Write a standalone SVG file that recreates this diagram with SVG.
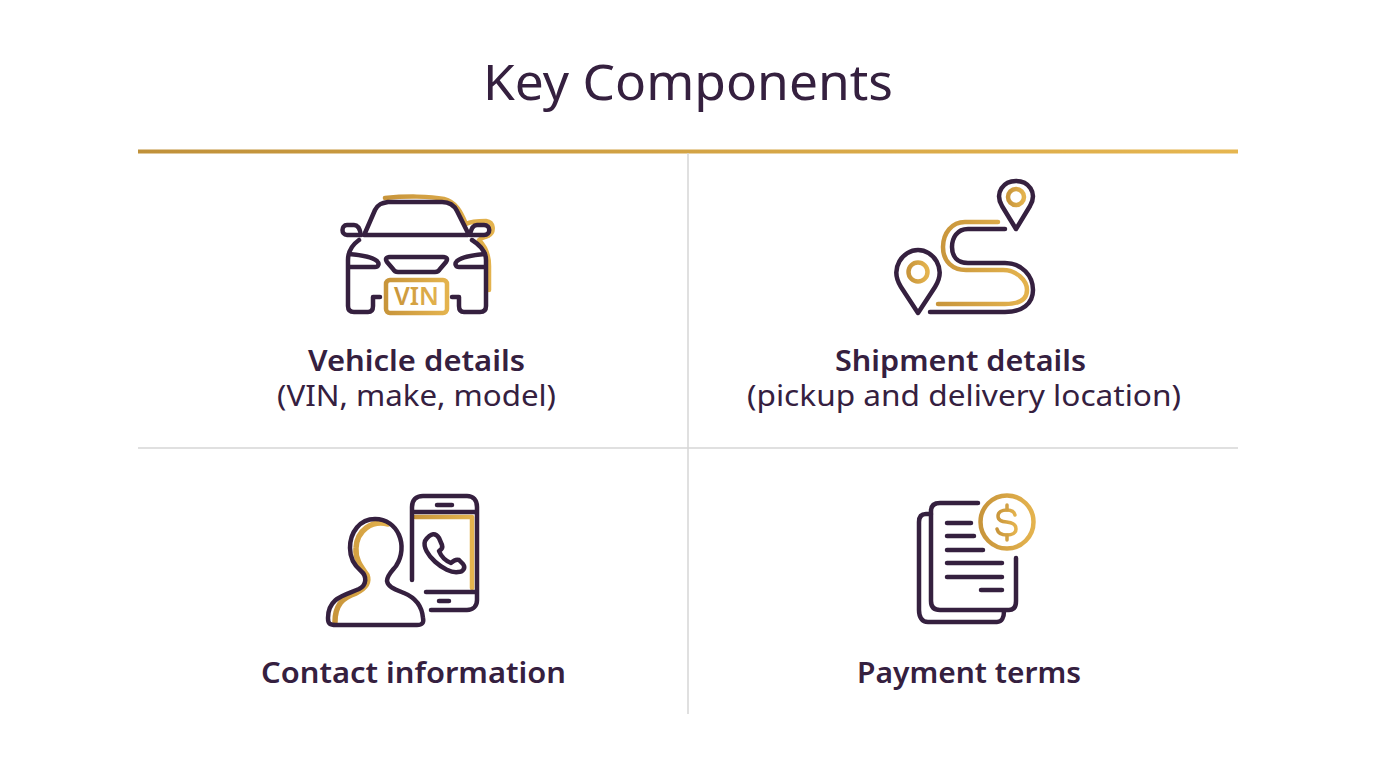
<svg xmlns="http://www.w3.org/2000/svg" width="1376" height="768" viewBox="0 0 1376 768">
<style>
text{font-family:"Noto Sans","Open Sans",sans-serif;fill:#35203f;text-anchor:middle}
.t{font-size:50px;font-weight:400}
.b{font-size:28.500px;font-weight:600}
.r{font-size:29px;font-weight:400}
.d,.g{fill:none;stroke-linecap:round;stroke-linejoin:round}
.d{stroke:#35203f;stroke-width:4.500}
.g{stroke:url(#g1);stroke-width:4.500}
.div{stroke:#d6d6d6;stroke-width:1.500}
</style>
<defs>
<linearGradient id="rule" gradientUnits="userSpaceOnUse" x1="138" y1="0" x2="1238" y2="0"><stop offset="0" stop-color="#c0913a"/><stop offset="1" stop-color="#e6b650"/></linearGradient>
<linearGradient id="g1" x1="0" y1="0" x2="1" y2="0"><stop offset="0" stop-color="#c8953b"/><stop offset="1" stop-color="#e4b34e"/></linearGradient>
</defs>
<rect width="1376" height="768" fill="#fff"/>
<text class="t" x="688" y="100" textLength="410" lengthAdjust="spacingAndGlyphs">Key Components</text>
<g id="connectors">
<line x1="138" y1="151.500" x2="1238" y2="151.500" stroke="url(#rule)" stroke-width="4"/>
<line class="div" x1="688" y1="153" x2="688" y2="714"/>
<line class="div" x1="138" y1="448" x2="1238" y2="448"/>
</g>
<g id="vehicle">
<path class="g" d="M385 198C405 196 430 196 444 199C456 202 461 212 466 224C470 222 478 221 486 221C494 222 495 232 488 236C483 238 481 238 479 240C485 246 489 256 489 266V290"/>
<path class="d" d="M365 233L375 210C378 204 382 203 388 202H442C450 202 454 205 457 211L468 233M364 235H468"/>
<path class="d" d="M359 240C352 245 348 251 348 260V306C348 310 350 312 354 312H368C371 312 373 310 373 306V297H380M472 240C480 245 486 251 486 260V306C486 310 484 312 480 312H464C461 312 459 310 459 306V297H452"/>
<path class="d" d="M361 235H347C341 235 341 225 347 225H354C358 225 360 229 361 235ZM470 235H484C491 235 491 225 484 225H477C473 225 471 229 470 235Z"/>
<path class="d" d="M349 254C361 255 372 257 377 261C380 264 378 267 375 267H349M485 254C473 255 462 257 457 261C454 264 456 267 459 267H485"/>
<path class="d" d="M390 257H443C447 257 448 259 446 262L440 269C439 271 437 272 435 272H398C396 272 394 271 393 269L387 262C385 259 386 257 390 257Z"/>
<rect x="386" y="280" width="61" height="33" rx="4" class="g"/>
<text x="416.500" y="305" textLength="45" lengthAdjust="spacingAndGlyphs" style="font-size:25px;font-weight:600;fill:url(#g1)">VIN</text>
</g>
<g id="shipment">
<path class="d" d="M1016 229L1002 206C994 192 1004 181 1016 181C1028 181 1038 192 1030 206Z"/>
<circle cx="1016" cy="197" r="8" class="g"/>
<path class="d" d="M918 313L901 287C889 268 903 250 918 250C933 250 947 268 935 287Z"/>
<circle cx="918" cy="272" r="9.500" class="g"/>
<path class="g" d="M998 222H965C952 222 943 233 943 247C943 262 953 270 966 270H1003C1016 270 1027 280 1027 290C1027 300 1018 304 1005 304H938"/>
<path class="d" d="M1005 229H968C957 229 952 238 952 247C952 256 957 263 968 263H1005C1022 263 1033 276 1033 290C1033 304 1022 312 1005 312H930"/>
</g>
<g id="contact">
<path class="g" style="stroke-width:5.500" d="M388 524C372 520 357 530 356 548C355 560 362 568 367 575C370 583 364 589 356 593C343 597 335 605 335 622"/>
<path class="d" d="M375 519C360 519 350 532 350 548C350 559 355 566 361 571C367 576 367 585 359 589C346 595 328 597 328 618C328 624 330 625 336 625H417C422 625 424 623 423 618C422 606 416 598 404 593C394 589 388 587 387 581C387 575 393 570 396 566C409 546 398 519 375 519Z"/>
<path class="g" d="M415 517H472V588"/>
<path class="d" d="M412 580V507C412 500 416 496 423 496H467C473 496 477 500 477 507V600C477 606 473 610 467 610H431M412 512H476M426 592H477"/>
<path class="d" d="M437 505H452M439 601H449"/>
<path class="d" d="M425 541C431 532 436 533 439 538L442 545C443 548 441 550 439 551C441 556 446 561 451 563C453 561 456 559 459 560L463 564C466 568 463 572 458 572C445 574 421 553 425 541Z"/>
</g>
<g id="payment">
<path class="d" d="M931 514H926C921 514 919 517 919 522V610C919 617 922 622 928 622H997C1002 622 1004 617 1004 611"/>
<path class="d" d="M978 503H940C934 503 931 506 931 511V601C931 607 934 610 940 610H1009C1014 610 1016 607 1016 601V558"/>
<path class="d" d="M947 523H971M947 536H974M947 550H983M947 563H1002M947 577H1002M981 590H1002"/>
<circle cx="1007" cy="522" r="26.500" class="g"/>
<path class="g" style="stroke-width:3.500" d="M1015 515C1014 511 1010 510 1007 510C1002 510 998 512 998 516C998 526 1016 518 1016 529C1016 533 1012 535 1007 535C1002 535 998 533 997 529"/>
<path d="M1007 505V510M1007 535V540" fill="none" stroke="#d2a145" stroke-width="3.500" stroke-linecap="round"/>
</g>
<text class="b" x="416.500" y="371" textLength="217" lengthAdjust="spacingAndGlyphs">Vehicle details</text>
<text class="r" x="416.500" y="406" textLength="279" lengthAdjust="spacingAndGlyphs">(VIN, make, model)</text>
<text class="b" x="960.500" y="371" textLength="251" lengthAdjust="spacingAndGlyphs">Shipment details</text>
<text class="r" x="964" y="406" textLength="434" lengthAdjust="spacingAndGlyphs">(pickup and delivery location)</text>
<text class="b" x="413.500" y="683" textLength="305" lengthAdjust="spacingAndGlyphs">Contact information</text>
<text class="b" x="969" y="683" textLength="224" lengthAdjust="spacingAndGlyphs">Payment terms</text>
</svg>
